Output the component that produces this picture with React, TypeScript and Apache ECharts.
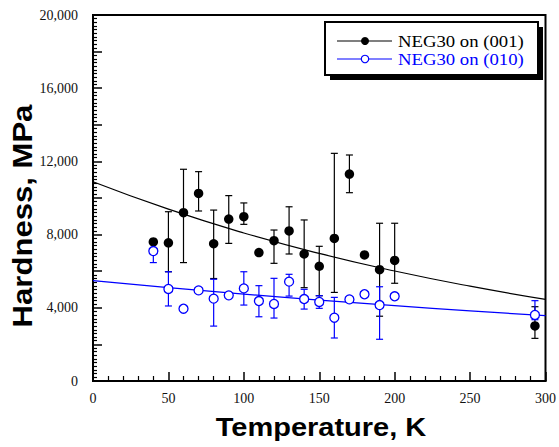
import React, { useEffect, useRef } from "react";
import * as echarts from "echarts";

// NEG30 on (001)
const T001 = [40, 50, 60, 70, 80, 90, 100, 110, 120, 130, 140, 150, 160, 170, 180, 190, 200, 293];
const H001 = [7600, 7550, 9200, 10250, 7500, 8850, 8980, 7020, 7670, 8200, 6940, 6270, 7790, 11310, 6890, 6080, 6590, 3010];
const LO001 = [null, 5970, 6470, 9290, 5600, 7520, 8560, null, 6430, 6940, 5100, 4660, 4840, 10290, null, 3540, 5340, 2330];
const HI001 = [null, 9250, 11570, 11440, 9340, 10130, 9730, null, 8250, 9520, 8800, 7360, 12440, 12350, null, 8620, 8620, 4060];

// NEG30 on (010)
const T010 = [40, 50, 60, 70, 80, 90, 100, 110, 120, 130, 140, 150, 160, 170, 180, 190, 200, 293];
const H010 = [7100, 5030, 3950, 4950, 4500, 4680, 5060, 4370, 4210, 5430, 4480, 4320, 3460, 4460, 4740, 4150, 4630, 3610];
const LO010 = [6470, 4100, null, null, 3000, null, 4150, 3510, 3440, 4640, 3930, 3970, 2350, null, null, 2280, 4480, 3350];
const HI010 = [null, 5970, null, null, 5560, null, 5970, 5210, 5610, 5830, 5010, 4660, 4570, null, null, 5150, 4780, 4390];

// fit curves
const FIT_T = [0, 50, 100, 150, 200, 250, 300];
const FIT001 = [10890, 9390, 8090, 6970, 6010, 5180, 4460];
const FIT010 = [5480, 5100, 4750, 4420, 4120, 3830, 3570];

const NAME001 = "NEG30 on (001)";
const NAME010 = "NEG30 on (010)";
const BLUE = "#0000ff";

function errData(t: number[], h: number[], lo: (number | null)[], hi: (number | null)[]) {
  const out: number[][] = [];
  for (let i = 0; i < t.length; i++) {
    if (lo[i] == null && hi[i] == null) continue;
    out.push([
      t[i],
      lo[i] == null ? h[i] : (lo[i] as number),
      hi[i] == null ? h[i] : (hi[i] as number),
      lo[i] == null ? 0 : 1,
      hi[i] == null ? 0 : 1,
    ]);
  }
  return out;
}

function errSeries(data: number[][], color: string, z: number) {
  return {
    type: "custom",
    z,
    silent: true,
    data,
    encode: { x: 0, y: [1, 2] },
    renderItem: (params: any, api: any) => {
      const x = api.value(0);
      const lo = api.coord([x, api.value(1)]);
      const hi = api.coord([x, api.value(2)]);
      const hasLo = api.value(3) === 1;
      const hasHi = api.value(4) === 1;
      const w = 3.5;
      const st = { stroke: color, lineWidth: 1.2 };
      const children: any[] = [
        { type: "line", shape: { x1: lo[0], y1: lo[1], x2: hi[0], y2: hi[1] }, style: st },
      ];
      if (hasLo) children.push({ type: "line", shape: { x1: lo[0] - w, y1: lo[1], x2: lo[0] + w, y2: lo[1] }, style: st });
      if (hasHi) children.push({ type: "line", shape: { x1: hi[0] - w, y1: hi[1], x2: hi[0] + w, y2: hi[1] }, style: st });
      return { type: "group", children };
    },
  };
}

function fmt(v: number) {
  return String(v).replace(/\B(?=(\d{3})+(?!\d))/g, ",");
}

export default function App() {
  const ref = useRef<HTMLDivElement>(null);
  useEffect(() => {
    if (!ref.current) return;
    const chart = echarts.init(ref.current, null, { renderer: "svg" });
    const serif = "Liberation Serif, Times New Roman, serif";
    const sans = "Liberation Sans, Arial, sans-serif";
    const option: any = {
      animation: false,
      backgroundColor: "#fff",
      grid: { left: 93, right: 10, top: 15, bottom: 66, show: true, borderColor: "#000", borderWidth: 2, backgroundColor: "transparent" },
      xAxis: {
        type: "value",
        min: 0,
        max: 300,
        interval: 50,
        axisLine: { show: true, lineStyle: { color: "#000", width: 2 } },
        axisTick: { show: true, inside: true, length: 9, lineStyle: { color: "#000", width: 1.5 } },
        minorTick: { show: true, splitNumber: 5, length: 5, lineStyle: { color: "#000", width: 1.2 } },
        splitLine: { show: false },
        axisLabel: { margin: 10, fontFamily: serif, fontSize: 14, color: "#111" },
      },
      yAxis: {
        type: "value",
        min: 0,
        max: 20000,
        interval: 2000,
        axisLine: { show: true, lineStyle: { color: "#000", width: 2 } },
        axisTick: { show: true, inside: true, length: 9, lineStyle: { color: "#000", width: 1.5 } },
        minorTick: { show: true, splitNumber: 10, length: 4, lineStyle: { color: "#000", width: 1.2 } },
        splitLine: { show: false },
        axisLabel: {
          margin: 15,
          fontFamily: serif,
          fontSize: 14,
          color: "#111",
          formatter: (v: number) => (v % 4000 === 0 ? fmt(v) : ""),
        },
      },
      series: [
        {
          type: "line",
          name: "fit001",
          z: 1,
          smooth: true,
          showSymbol: false,
          silent: true,
          data: FIT_T.map((t, i) => [t, FIT001[i]]),
          lineStyle: { color: "#000", width: 1.2 },
        },
        {
          type: "line",
          name: "fit010",
          z: 1,
          smooth: true,
          showSymbol: false,
          silent: true,
          data: FIT_T.map((t, i) => [t, FIT010[i]]),
          lineStyle: { color: BLUE, width: 1.2 },
        },
        errSeries(errData(T001, H001, LO001, HI001), "#000", 2),
        {
          type: "scatter",
          name: NAME001,
          z: 3,
          symbol: "circle",
          symbolSize: 9.5,
          data: T001.map((t, i) => [t, H001[i]]),
          itemStyle: { color: "#000", opacity: 1 },
        },
        errSeries(errData(T010, H010, LO010, HI010), BLUE, 4),
        {
          type: "scatter",
          name: NAME010,
          z: 5,
          symbol: "circle",
          symbolSize: 9,
          data: T010.map((t, i) => [t, H010[i]]),
          itemStyle: { color: "#fff", borderColor: BLUE, borderWidth: 1.3, opacity: 1 },
        },
      ],
      graphic: [
        { type: "rect", z: 10, shape: { x: 330, y: 27, width: 213, height: 53 }, style: { fill: "#000" } },
        { type: "rect", z: 11, shape: { x: 325, y: 22, width: 213, height: 53 }, style: { fill: "#fff", stroke: "#000", lineWidth: 2 } },
        { type: "line", z: 12, shape: { x1: 337, y1: 41, x2: 392, y2: 41 }, style: { stroke: "#000", lineWidth: 1.2 } },
        { type: "circle", z: 13, shape: { cx: 365, cy: 41, r: 4 }, style: { fill: "#000" } },
        {
          type: "text",
          z: 13,
          x: 398,
          y: 41,
          scaleX: 1.07,
          style: { x: 0, y: 0, text: NAME001, fontFamily: serif, fontSize: 17.5, lineHeight: 17, fill: "#000", verticalAlign: "middle", align: "left" },
        },
        { type: "line", z: 12, shape: { x1: 337, y1: 59, x2: 392, y2: 59 }, style: { stroke: BLUE, lineWidth: 1.2 } },
        { type: "circle", z: 13, shape: { cx: 365, cy: 59, r: 3.7 }, style: { fill: "#fff", stroke: BLUE, lineWidth: 1.2 } },
        {
          type: "text",
          z: 13,
          x: 398,
          y: 59,
          scaleX: 1.07,
          style: { x: 0, y: 0, text: NAME010, fontFamily: serif, fontSize: 17.5, lineHeight: 17, fill: BLUE, verticalAlign: "middle", align: "left" },
        },
        {
          type: "text",
          z: 13,
          x: 321,
          y: 427,
          scaleX: 1.16,
          style: { x: 0, y: 0, text: "Temperature, K", fontFamily: sans, fontWeight: "bold", fontSize: 25, fill: "#000", align: "center", verticalAlign: "middle" },
        },
        {
          type: "text",
          z: 13,
          x: 22,
          y: 216,
          rotation: Math.PI / 2,
          scaleX: 1.11,
          style: { x: 0, y: 0, text: "Hardness, MPa", fontFamily: sans, fontWeight: "bold", fontSize: 28, fill: "#000", align: "center", verticalAlign: "middle" },
        },
      ],
    };
    chart.setOption(option);
    return () => chart.dispose();
  }, []);
  return <div ref={ref} style={{ position: "fixed", left: 0, top: 0, width: 559, height: 447, background: "#fff" }} />;
}
